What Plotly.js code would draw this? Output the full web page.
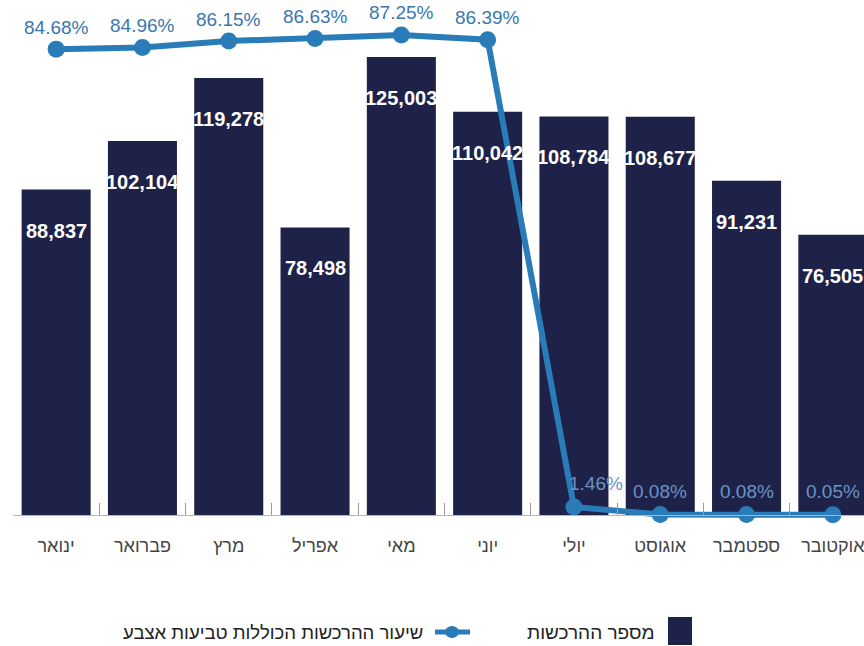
<!DOCTYPE html>
<html>
<head>
<meta charset="utf-8">
<script src="https://cdn.plot.ly/plotly-3.0.1.min.js"></script>
<style>html,body{margin:0;padding:0;background:#fff;}#chart{width:864px;height:646px;}</style>
</head>
<body>
<div id="chart"></div>
<script>
const months = ['ינואר','פברואר','מרץ','אפריל','מאי','יוני','יולי','אוגוסט','ספטמבר','אוקטובר'];
const registrations = [88837,102104,119278,78498,125003,110042,108784,108677,91231,76505];
const fingerprintPct = [84.68,84.96,86.15,86.63,87.25,86.39,1.46,0.08,0.08,0.05];
const legendBars = 'מספר ההרכשות';
const legendLine = 'שיעור ההרכשות הכוללות טביעות אצבע';

const FONT = '"Liberation Sans", Arial, sans-serif';
const BAR_COLOR = '#1f2248';
const LINE_COLOR = '#2a7cb8';

const barTrace = {
  type: 'bar', x: months, y: registrations, yaxis: 'y',
  marker: {color: BAR_COLOR}, hoverinfo: 'skip', showlegend: false
};
const lineTrace = {
  type: 'scatter', mode: 'lines+markers', x: months, y: fingerprintPct, yaxis: 'y2',
  line: {color: LINE_COLOR, width: 6},
  marker: {color: LINE_COLOR, size: 17},
  cliponaxis: false, hoverinfo: 'skip', showlegend: false
};

const annotations = [];
months.forEach((m, i) => {
  annotations.push({
    x: m, y: registrations[i], xref: 'x', yref: 'y',
    text: registrations[i].toLocaleString('en-US'),
    showarrow: false, yanchor: 'middle', yshift: -41,
    font: {family: FONT, size: 20, color: '#ffffff', weight: 'bold'}
  });
  const low = fingerprintPct[i] < 5;
  const isDrop = i > 0 && fingerprintPct[i - 1] - fingerprintPct[i] > 50;
  annotations.push({
    x: m, y: fingerprintPct[i], xref: 'x', yref: 'y2',
    text: fingerprintPct[i].toFixed(2) + '%',
    showarrow: false, yanchor: 'middle',
    yshift: low ? 23 : 22, xshift: isDrop ? 22 : 0,
    font: {family: FONT, size: 19, color: low ? '#6a93c6' : '#3978ae'}
  });
});

// manual right-to-left legend
annotations.push({
  xref: 'paper', yref: 'paper', x: 0.7568, y: -0.1925, xanchor: 'right', yanchor: 'middle',
  text: legendBars, showarrow: false, font: {family: FONT, size: 19, color: '#222'}
});
annotations.push({
  xref: 'paper', yref: 'paper', x: 0.4841, y: -0.1925, xanchor: 'right', yanchor: 'middle',
  text: legendLine, showarrow: false, font: {family: FONT, size: 18.5, color: '#222'}
});

const shapes = [
  {type: 'rect', xref: 'paper', yref: 'paper', x0: 0.7697, x1: 0.7979, y0: -0.217, y1: -0.1642,
   fillcolor: BAR_COLOR, line: {width: 0}},
  {type: 'line', xref: 'paper', yref: 'paper', x0: 0.4959, x1: 0.537, y0: -0.1925, y1: -0.1925,
   line: {color: LINE_COLOR, width: 5}},
  {type: 'circle', xref: 'paper', yref: 'paper', x0: 0.5076, x1: 0.5241, y0: -0.2038, y1: -0.1811,
   fillcolor: LINE_COLOR, line: {width: 0}}
];

const layout = {
  width: 864, height: 646,
  margin: {l: 13, r: 0, t: 0, b: 116},
  paper_bgcolor: '#ffffff', plot_bgcolor: '#ffffff',
  bargap: 0.2, showlegend: false,
  xaxis: {
    type: 'category', range: [-0.5, 9.361], fixedrange: true,
    anchor: 'free', position: 15 / 530,
    tickson: 'boundaries', ticks: 'inside', ticklen: 12, tickwidth: 1, tickcolor: '#9a9a9a',
    showline: true, linecolor: '#b5b5b5', linewidth: 1,
    showgrid: false, zeroline: false,
    ticklabelstandoff: 14,
    tickfont: {family: FONT, size: 18, color: '#444'}
  },
  yaxis: {range: [-4094, 140560], visible: false, showgrid: false, zeroline: false, fixedrange: true},
  yaxis2: {range: [-2.727, 93.61], overlaying: 'y', visible: false, showgrid: false, zeroline: false, fixedrange: true},
  annotations: annotations,
  shapes: shapes
};

Plotly.newPlot('chart', [barTrace, lineTrace], layout, {displayModeBar: false, staticPlot: true});
</script>
</body>
</html>
